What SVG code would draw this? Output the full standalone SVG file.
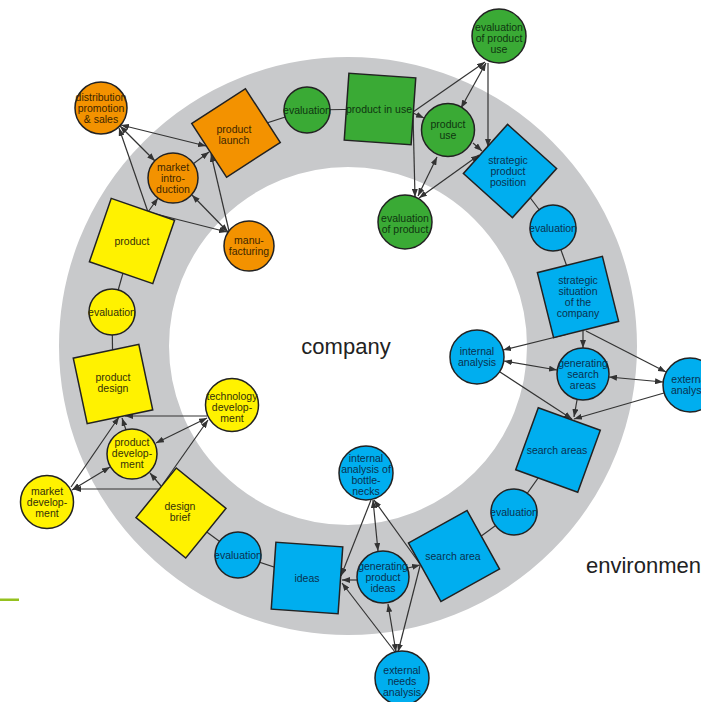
<svg xmlns="http://www.w3.org/2000/svg" width="701" height="702" viewBox="0 0 701 702">
<defs>
<marker id="ah" viewBox="0 0 8 6" refX="8" refY="3" markerWidth="8" markerHeight="6" markerUnits="userSpaceOnUse" orient="auto-start-reverse">
<path d="M0,0 L8,3 L0,6 z" fill="#333"/>
</marker>
<style>
.n{stroke:#222;stroke-width:1.5}
.o{fill:#f39200}
.g{fill:#3aaa35}
.b{fill:#00aeef}
.y{fill:#fff200}
text{font-family:"Liberation Sans",Arial,sans-serif;font-size:10.5px;text-anchor:middle}
.to{fill:#3d2600}
.tg{fill:#0f3510}
.tb{fill:#0a3150}
.ty{fill:#33300a}
.big{font-size:22px;fill:#222}
.c line{stroke:#333;stroke-width:1.2;fill:none}
.e{marker-end:url(#ah)}
.d{marker-start:url(#ah);marker-end:url(#ah)}
.s{marker-start:url(#ah)}
</style>
</defs>
<rect width="701" height="702" fill="#fff"/>
<circle cx="348" cy="346" r="234" fill="none" stroke="#c8c9cb" stroke-width="110"/>
<rect x="0" y="598.5" width="19" height="2.5" fill="#95c11f"/>
<text class="big" x="346" y="354">company</text>
<text class="big" x="586" y="573" style="text-anchor:start">environment</text>

<g id="connectors" class="c">
<!-- ring chain -->
<line x1="132" y1="241" x2="112" y2="312"/>
<line x1="112" y1="312" x2="113" y2="384"/>
<line x1="181" y1="513" x2="238" y2="555"/>
<line x1="238" y1="555" x2="307" y2="578"/>
<line x1="454" y1="556" x2="514" y2="512"/>
<line x1="514" y1="512" x2="558" y2="450"/>
<line x1="578" y1="297" x2="553" y2="228"/>
<line x1="553" y1="228" x2="510" y2="171"/>
<line x1="380" y1="109" x2="307" y2="110"/>
<line x1="307" y1="110" x2="236" y2="133"/>
<!-- orange cluster -->
<line class="e" x1="148" y1="212" x2="119" y2="128"/>
<line class="e" x1="148" y1="212" x2="158" y2="198"/>
<line class="e" x1="148" y1="212" x2="227" y2="232"/>
<line class="d" x1="120" y1="126" x2="155" y2="161"/>
<line class="d" x1="121" y1="125" x2="206" y2="146"/>
<line class="e" x1="193" y1="164" x2="209" y2="152"/>
<line class="d" x1="228" y1="232" x2="192" y2="195"/>
<line class="e" x1="229" y1="231" x2="211" y2="154"/>
<!-- green cluster -->
<line class="e" x1="413" y1="112" x2="485" y2="62"/>
<line class="e" x1="413" y1="113" x2="424" y2="118"/>
<line class="e" x1="413" y1="114" x2="415" y2="197"/>
<line class="d" x1="486" y1="63" x2="461" y2="108"/>
<line class="e" x1="488" y1="63" x2="488" y2="147"/>
<line class="e" x1="473" y1="143" x2="482" y2="151"/>
<line class="d" x1="418" y1="196" x2="437" y2="157"/>
<line class="d" x1="419" y1="198" x2="479" y2="155"/>
<!-- blue cluster 1 -->
<line class="e" x1="583" y1="331" x2="583" y2="348"/>
<line class="e" x1="568" y1="334" x2="503" y2="350"/>
<line class="e" x1="586" y1="331" x2="666" y2="372"/>
<line class="d" x1="504" y1="361" x2="557" y2="370"/>
<line class="d" x1="609" y1="377" x2="663" y2="382"/>
<line class="e" x1="500" y1="372" x2="572" y2="419"/>
<line class="e" x1="577" y1="400" x2="574" y2="417"/>
<line class="e" x1="664" y1="393" x2="574" y2="419"/>
<!-- blue cluster 2 -->
<line class="e" x1="371" y1="500" x2="341" y2="576"/>
<line class="d" x1="373" y1="500" x2="378" y2="551"/>
<line class="s" x1="374" y1="500" x2="420" y2="564"/>
<line class="e" x1="357" y1="580" x2="342" y2="580"/>
<line class="e" x1="408" y1="568" x2="420" y2="565"/>
<line class="d" x1="388" y1="604" x2="396" y2="652"/>
<line class="e" x1="395" y1="652" x2="342" y2="583"/>
<line class="e" x1="420" y1="566" x2="398" y2="652"/>
<!-- yellow cluster -->
<line class="e" x1="207" y1="416" x2="125" y2="416"/>
<line class="d" x1="156" y1="443" x2="207" y2="418"/>
<line class="e" x1="71" y1="487" x2="119" y2="417"/>
<line class="d" x1="72" y1="490" x2="110" y2="467"/>
<line class="e" x1="126" y1="430" x2="122" y2="418"/>
<line class="e" x1="159" y1="489" x2="73" y2="489"/>
<line class="e" x1="161" y1="486" x2="150" y2="473"/>
<line class="e" x1="163" y1="484" x2="208" y2="420"/>
</g>

<!-- orange nodes -->
<g id="distribution"><circle class="n o" cx="101" cy="108" r="26"/><text class="to" x="101" y="100.7">distribution</text><text class="to" x="101" y="111.7">promotion</text><text class="to" x="101" y="122.7">&amp; sales</text></g>
<g id="market-introduction"><circle class="n o" cx="173" cy="178" r="25"/><text class="to" x="173" y="170.7">market</text><text class="to" x="173" y="181.7">intro-</text><text class="to" x="173" y="192.7">duction</text></g>
<g id="product-launch"><rect class="n o" x="-32" y="-32" width="64" height="64" transform="translate(236,133) rotate(-33)"/><text class="to" x="234" y="133.2">product</text><text class="to" x="234" y="144.2">launch</text></g>
<g id="manufacturing"><circle class="n o" cx="249" cy="246" r="25"/><text class="to" x="249" y="244.2">manu-</text><text class="to" x="249" y="255.2">facturing</text></g>

<!-- green nodes -->
<g id="evaluation-1"><circle class="n g" cx="307" cy="110" r="23"/><text class="tg" x="307" y="113.7">evaluation</text></g>
<g id="product-in-use"><rect class="n g" x="-33.5" y="-33.5" width="67" height="67" transform="translate(380,109) rotate(4)"/><text class="tg" x="379" y="113">product in use</text></g>
<g id="product-use"><circle class="n g" cx="448" cy="130" r="26.5"/><text class="tg" x="448" y="128.2">product</text><text class="tg" x="448" y="139.2">use</text></g>
<g id="evaluation-of-product-use"><circle class="n g" cx="499" cy="36" r="27"/><text class="tg" x="499" y="31.2">evaluation</text><text class="tg" x="499" y="42.2">of product</text><text class="tg" x="499" y="53.2">use</text></g>
<g id="evaluation-of-product"><circle class="n g" cx="405" cy="222" r="27"/><text class="tg" x="405" y="222.2">evaluation</text><text class="tg" x="405" y="233.2">of product</text></g>

<!-- blue nodes -->
<g id="strategic-product-position"><rect class="n b" x="-33" y="-33" width="66" height="66" transform="translate(510,171) rotate(42)"/><text class="tb" x="508" y="164.4">strategic</text><text class="tb" x="508" y="175.4">product</text><text class="tb" x="508" y="186.4">position</text></g>
<g id="evaluation-2"><circle class="n b" cx="553" cy="228" r="23"/><text class="tb" x="553" y="231.7">evaluation</text></g>
<g id="strategic-situation"><rect class="n b" x="-33.5" y="-33.5" width="67" height="67" transform="translate(578,297) rotate(-14)"/><text class="tb" x="578" y="284.2">strategic</text><text class="tb" x="578" y="295.2">situation</text><text class="tb" x="578" y="306.2">of the</text><text class="tb" x="578" y="317.2">company</text></g>
<g id="internal-analysis"><circle class="n b" cx="477" cy="357" r="27"/><text class="tb" x="477" y="355.2">internal</text><text class="tb" x="477" y="366.2">analysis</text></g>
<g id="generating-search-areas"><circle class="n b" cx="583" cy="374" r="26"/><text class="tb" x="583" y="366.7">generating</text><text class="tb" x="583" y="377.7">search</text><text class="tb" x="583" y="388.7">areas</text></g>
<g id="external-analysis"><circle class="n b" cx="690" cy="385" r="27"/><text class="tb" x="690" y="383.2">external</text><text class="tb" x="690" y="394.2">analysis</text></g>
<g id="search-areas"><rect class="n b" x="-33" y="-33" width="66" height="66" transform="translate(558,450) rotate(20)"/><text class="tb" x="557" y="453.7">search areas</text></g>
<g id="evaluation-3"><circle class="n b" cx="514" cy="512" r="23"/><text class="tb" x="514" y="515.7">evaluation</text></g>
<g id="search-area"><rect class="n b" x="-33.5" y="-33.5" width="67" height="67" transform="translate(454,556) rotate(-29)"/><text class="tb" x="453" y="559.7">search area</text></g>
<g id="generating-product-ideas"><circle class="n b" cx="383" cy="577" r="26"/><text class="tb" x="383" y="569.7">generating</text><text class="tb" x="383" y="580.7">product</text><text class="tb" x="383" y="591.7">ideas</text></g>
<g id="internal-analysis-of-bottlenecks"><circle class="n b" cx="366" cy="473" r="27"/><text class="tb" x="366" y="462.2">internal</text><text class="tb" x="366" y="473.2">analysis of</text><text class="tb" x="366" y="484.2">bottle-</text><text class="tb" x="366" y="495.2">necks</text></g>
<g id="external-needs-analysis"><circle class="n b" cx="402" cy="678" r="27"/><text class="tb" x="402" y="673.7">external</text><text class="tb" x="402" y="684.7">needs</text><text class="tb" x="402" y="695.7">analysis</text></g>
<g id="ideas"><rect class="n b" x="-33.5" y="-33.5" width="67" height="67" transform="translate(307,578) rotate(4)"/><text class="tb" x="307" y="581.7">ideas</text></g>
<g id="evaluation-4"><circle class="n b" cx="238" cy="555" r="23"/><text class="tb" x="238" y="558.7">evaluation</text></g>

<!-- yellow nodes -->
<g id="design-brief"><rect class="n y" x="-32" y="-32" width="64" height="64" transform="translate(181,513) rotate(39)"/><text class="ty" x="180" y="510.2">design</text><text class="ty" x="180" y="521.2">brief</text></g>
<g id="market-development"><circle class="n y" cx="47" cy="502" r="26.5"/><text class="ty" x="47" y="494.7">market</text><text class="ty" x="47" y="505.7">develop-</text><text class="ty" x="47" y="516.7">ment</text></g>
<g id="product-development"><circle class="n y" cx="132" cy="454" r="25"/><text class="ty" x="132" y="445.7">product</text><text class="ty" x="132" y="456.7">develop-</text><text class="ty" x="132" y="467.7">ment</text></g>
<g id="technology-development"><circle class="n y" cx="232" cy="405" r="26.5"/><text class="ty" x="232" y="399.7">technology</text><text class="ty" x="232" y="410.7">develop-</text><text class="ty" x="232" y="421.7">ment</text></g>
<g id="product-design"><rect class="n y" x="-33.5" y="-33.5" width="67" height="67" transform="translate(113,384) rotate(-12)"/><text class="ty" x="113" y="381.2">product</text><text class="ty" x="113" y="392.2">design</text></g>
<g id="evaluation-5"><circle class="n y" cx="112" cy="312" r="23"/><text class="ty" x="112" y="315.7">evaluation</text></g>
<g id="product"><rect class="n y" x="-33.5" y="-33.5" width="67" height="67" transform="translate(132,241) rotate(19)"/><text class="ty" x="132" y="244.7">product</text></g>
</svg>
